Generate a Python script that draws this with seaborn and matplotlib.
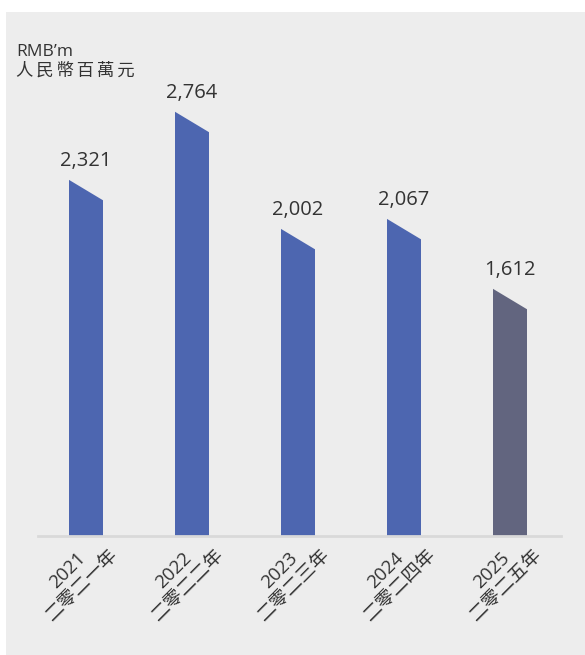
import matplotlib
matplotlib.use("Agg")
import matplotlib.pyplot as plt
from matplotlib.patches import Polygon, Rectangle
from matplotlib.transforms import ScaledTranslation
import seaborn as sns
import pandas as pd

# Data
years = ["2021", "2022", "2023", "2024", "2025"]
years_zh = ["二零二一年", "二零二二年", "二零二三年", "二零二四年", "二零二五年"]
values = [2321, 2764, 2002, 2067, 1612]
bar_colors = ["#4d66b0", "#4d66b0", "#4d66b0", "#4d66b0", "#62657f"]
unit_en = "RMB\u2019m"
unit_zh = "\u2009".join("人民幣百萬元")

sns.set_theme(style="white")
plt.rcParams["font.family"] = ["Open Sans", "Noto Sans CJK TC", "DejaVu Sans"]
text_color = "#333333"

W, H = 585, 655
fig = plt.figure(figsize=(W / 100, H / 100), dpi=100)
fig.patch.set_facecolor("white")
# light grey panel behind the chart
fig.patches.append(Rectangle((6 / W, 0), 1 - 6 / W, (H - 12) / H,
                             transform=fig.transFigure, facecolor="#ededed",
                             edgecolor="none", zorder=-10))

ax_left, ax_right = 38, 561
ax_bottom_px = 536
ax_top_px = 12
ax = fig.add_axes([ax_left / W, (H - ax_bottom_px) / H,
                   (ax_right - ax_left) / W, (ax_bottom_px - ax_top_px) / H])
ax.set_facecolor("none")

df = pd.DataFrame({"year": years, "value": values})
sns.barplot(data=df, x="year", y="value", hue="year", palette=bar_colors,
            width=0.32, legend=False, ax=ax, saturation=1)

px_per_unit = 0.1537
ax.set_ylim(0, (ax_bottom_px - ax_top_px) / px_per_unit)
ax.set_xlim(-0.453, 4.481)

# slanted tops: right edge of each bar sits a bit lower than the left edge
drop = 21 / px_per_unit
for patch in ax.patches:
    x0 = patch.get_x()
    x1 = x0 + patch.get_width()
    h = patch.get_height()
    clip = Polygon([(x0 - 0.01, 0), (x0 - 0.01, h), (x1, h - drop), (x1 + 0.01, h - drop), (x1 + 0.01, 0)],
                   closed=True, transform=ax.transData)
    patch.set_clip_path(clip)
    patch.set_edgecolor("none")

# value labels
for i, v in enumerate(values):
    ax.annotate(f"{v:,}", xy=(i, v), xytext=(0, 13), textcoords="offset pixels",
                ha="center", va="baseline", fontsize=14.5, color=text_color)

# axes styling
for side in ["top", "left", "right"]:
    ax.spines[side].set_visible(False)
ax.spines["bottom"].set_color("#d9d9d9")
ax.spines["bottom"].set_linewidth(2.0)
ax.set_yticks([])
ax.set_xlabel("")
ax.set_ylabel("")

ax.set_xticks(range(len(years)))
ax.set_xticklabels([f"{y}\n{z}" for y, z in zip(years, years_zh)],
                   rotation=45, ha="center", va="center", rotation_mode="anchor",
                   multialignment="center", fontsize=13.5, color=text_color,
                   linespacing=1.2)
ax.tick_params(axis="x", length=0, pad=42 * 0.72)
shift = ScaledTranslation(-11 / 100, 0, fig.dpi_scale_trans)
for lbl in ax.get_xticklabels():
    lbl.set_transform(lbl.get_transform() + shift)

# unit caption
fig.text(16 / W, 1 - 44 / H, unit_en, ha="left", va="top", fontsize=12.5,
         color=text_color)
fig.text(16 / W, 1 - 63 / H, unit_zh, ha="left", va="top", fontsize=12.5,
         color=text_color)

fig.savefig("out.png", dpi=100)
